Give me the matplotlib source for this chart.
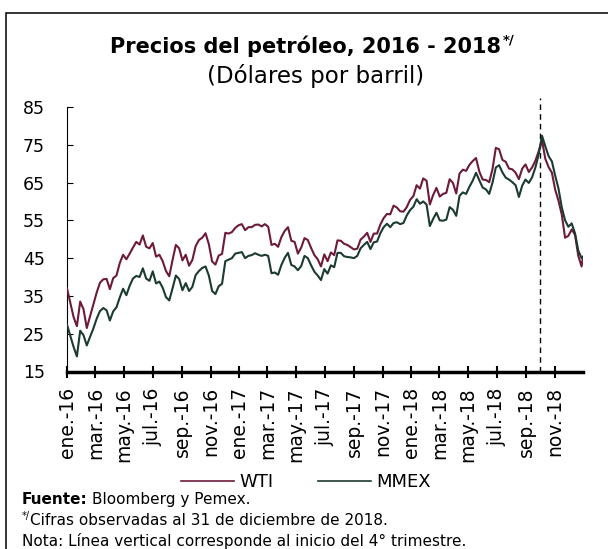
import matplotlib
matplotlib.use('Agg')
import matplotlib.pyplot as plt
from matplotlib.lines import Line2D
from matplotlib.patches import Rectangle
import pandas as pd

plt.rcParams['font.family'] = ['DejaVu Sans']

# weekly observations (Friday), plus last trading day of 2018
fechas = list(pd.date_range('2016-01-01', '2018-12-28', freq='7D')) + [pd.Timestamp('2018-12-31')]

wti_2016 = [37.0, 33.2, 29.4, 27.0, 33.5, 31.5, 26.5, 29.6, 32.8, 35.9, 38.5, 39.4, 39.5,
            36.8, 39.7, 40.4, 43.7, 45.9, 44.7, 46.2, 47.8, 49.3, 48.6, 51.0, 48.0, 47.6,
            49.0, 45.4, 45.9, 44.2, 41.6, 40.2, 44.5, 48.5, 47.6, 44.4, 45.9, 43.0, 44.5,
            48.2, 49.8, 50.4, 51.6, 48.7, 44.1, 43.3, 45.7, 46.1, 51.7, 51.5, 51.9, 53.0, 53.7]
wti_2017 = [54.0, 52.4, 53.2, 53.2, 53.8, 53.9, 53.4, 54.0, 53.3, 48.5, 48.8, 48.0, 50.6,
            52.2, 53.2, 49.6, 49.3, 46.2, 47.8, 50.3, 49.8, 47.7, 45.8, 44.7, 42.8, 46.0,
            44.2, 46.5, 45.8, 49.7, 49.6, 48.8, 48.5, 47.9, 47.3, 47.5, 49.9, 50.7, 51.7,
            49.3, 51.5, 51.5, 53.9, 55.6, 56.7, 56.6, 58.9, 58.4, 57.4, 57.3, 58.5, 60.4]
wti_2018 = [61.4, 64.3, 63.4, 66.1, 65.5, 59.2, 61.7, 63.6, 61.3, 62.0, 62.3, 65.9, 64.9,
            62.1, 67.4, 68.4, 68.1, 69.7, 70.7, 71.5, 67.9, 65.8, 65.7, 65.1, 68.6, 74.2,
            73.8, 71.0, 70.5, 68.7, 68.5, 67.6, 65.9, 68.7, 69.8, 67.8, 69.0, 70.8, 73.3,
            76.2, 71.3, 69.1, 67.6, 63.1, 60.2, 56.5, 50.4, 50.9, 52.6, 51.2, 45.6, 42.8, 45.4]

mmex_2016 = [27.4, 24.5, 21.5, 19.0, 25.8, 24.6, 21.9, 24.2, 26.4, 29.0, 31.0, 31.8, 31.2,
             28.5, 30.9, 32.0, 34.6, 36.9, 35.2, 37.7, 39.6, 40.3, 40.0, 42.3, 39.6, 39.0,
             41.5, 38.3, 38.8, 37.2, 34.7, 33.8, 37.0, 40.4, 39.5, 36.5, 38.4, 36.3, 37.4,
             40.5, 41.6, 42.4, 42.8, 40.4, 36.3, 35.5, 37.6, 38.2, 44.2, 44.6, 45.0, 46.2, 46.4]
mmex_2017 = [46.6, 45.0, 45.6, 45.8, 46.3, 45.9, 45.6, 45.9, 45.6, 41.0, 41.2, 40.6, 43.2,
             45.1, 46.4, 43.2, 42.8, 41.8, 42.9, 45.6, 45.0, 43.1, 41.4, 40.4, 39.2, 42.1,
             40.9, 43.1, 42.6, 46.4, 46.4, 45.5, 45.3, 45.2, 45.0, 45.6, 47.6, 48.5, 49.3,
             47.4, 49.2, 49.4, 51.6, 53.2, 54.1, 53.2, 54.3, 54.5, 54.0, 54.3, 56.3, 57.7]
mmex_2018 = [58.6, 60.6, 59.4, 60.0, 59.2, 53.5, 55.4, 57.0, 55.0, 54.9, 55.2, 58.5, 57.8,
             56.2, 61.5, 62.4, 62.0, 63.9, 65.5, 67.6, 65.6, 63.7, 63.2, 62.0, 65.0, 69.0,
             69.6, 67.7, 66.3, 65.8, 65.1, 64.3, 61.2, 64.2, 65.8, 64.9, 66.4, 69.0, 72.5,
             77.4, 74.6, 72.0, 70.6, 66.8, 63.4, 58.4, 55.0, 53.3, 54.2, 51.6, 47.0, 45.0, 45.2]

wti = wti_2016 + wti_2017 + wti_2018
mmex = mmex_2016 + mmex_2017 + mmex_2018

meses = ['ene.', 'mar.', 'may.', 'jul.', 'sep.', 'nov.']
ticks = pd.date_range('2016-01-01', '2018-11-01', freq='2MS')
etiquetas = [f"{meses[(t.month - 1) // 2]}-{str(t.year)[2:]}" for t in ticks]

c_wti = '#6d1a3c'
c_mmex = '#1b3a31'

W, H = 608, 549
fig = plt.figure(figsize=(W / 100, H / 100), dpi=100)
ax = fig.add_axes([67 / W, 1 - 371.5 / H, (583 - 67) / W, (371.5 - 107) / H])

ax.plot(fechas, wti, color=c_wti, lw=1.5, zorder=3)
ax.plot(fechas, mmex, color=c_mmex, lw=1.5, zorder=3)
ax.plot([pd.Timestamp('2018-10-01')] * 2, [15, 87.5], color='black', lw=1,
        ls=(0, (4, 3)), clip_on=False, zorder=2)

ax.set_xlim(pd.Timestamp('2016-01-01'), pd.Timestamp('2018-12-31'))
ax.set_ylim(15, 85)
ax.set_yticks(range(15, 86, 10))
ax.set_xticks(ticks)
ax.set_xticklabels(etiquetas, rotation=90)

for s in ['top', 'right']:
    ax.spines[s].set_visible(False)
ax.spines['left'].set_linewidth(0.8)
ax.spines['bottom'].set_linewidth(2.5)

ax.tick_params(axis='y', direction='in', length=4, width=0.8, labelsize=12.5, pad=16)
ax.tick_params(axis='x', direction='inout', length=8.5, width=1.5, labelsize=13.5, pad=7)

# legend
handles = [Line2D([], [], color=c_wti, lw=1.2), Line2D([], [], color=c_mmex, lw=1.2)]
fig.legend(handles, ['WTI', 'MMEX'], loc='center', bbox_to_anchor=(306 / W, 1 - 482 / H),
           ncol=2, frameon=False, fontsize=13, handlelength=2.9, handletextpad=0.3,
           columnspacing=2.5)

# title
r = fig.canvas.get_renderer()
t = fig.text(306 / W, 1 - 53 / H, 'Precios del petróleo, 2016 - 2018', ha='center',
             va='baseline', fontsize=15, fontweight='bold')
bb = t.get_window_extent(r)
fig.text(bb.x1 / W + 1 / W, 1 - 44 / H, '*/', ha='left', va='baseline', fontsize=9.5,
         fontweight='bold')
fig.text(316 / W, 1 - 83 / H, '(Dólares por barril)', ha='center', va='baseline', fontsize=16.5)

# notes
f1 = fig.text(22 / W, 1 - 504 / H, 'Fuente:', ha='left', va='baseline', fontsize=11,
              fontweight='bold')
bb = f1.get_window_extent(r)
fig.text(bb.x1 / W + 4 / W, 1 - 504 / H, 'Bloomberg y Pemex.', ha='left', va='baseline',
         fontsize=11)
s1 = fig.text(22 / W, 1 - 519 / H, '*/', ha='left', va='baseline', fontsize=7)
bb = s1.get_window_extent(r)
fig.text(bb.x1 / W, 1 - 525 / H, 'Cifras observadas al 31 de diciembre de 2018.', ha='left',
         va='baseline', fontsize=11)
fig.text(22 / W, 1 - 546 / H, 'Nota: Línea vertical corresponde al inicio del 4° trimestre.',
         ha='left', va='baseline', fontsize=11)

# frame around the chart
fig.patches.append(Rectangle((6 / W, -0.1), 1.2, 1 - 13 / H + 0.1, transform=fig.transFigure,
                             fill=False, edgecolor='black', lw=1.1))

fig.savefig('out.png', dpi=100)
